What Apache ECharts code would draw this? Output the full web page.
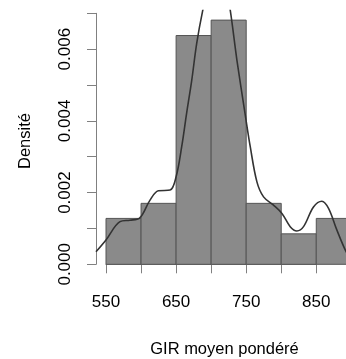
<!DOCTYPE html>
<html>
<head>
<meta charset="utf-8">
<script src="https://cdn.jsdelivr.net/npm/echarts@6/dist/echarts.min.js"></script>
<style>html,body{margin:0;padding:0;background:#fff}#c{width:346px;height:359px}</style>
</head>
<body>
<div id="c"></div>
<script>
// Histogram bins (edges) and densities
var binStarts = [550, 600, 650, 700, 750, 800, 850];
var binWidth = 50;
var densities = [0.00128, 0.0017, 0.00638, 0.00681, 0.0017, 0.00085, 0.00128];
// Kernel density curve
var densX = [535.7, 550, 570, 584, 597.5, 612.8, 624.7, 641.4, 650, 658, 665, 672.3, 679.4, 688, 695, 702, 708, 715, 722, 727.3, 736.8, 748.7, 755.8, 765.3, 774.8, 789, 801, 812.8, 822.3, 831.8, 846, 858, 867.5, 879.3, 892.6, 900];
var densY = [0.00035, 0.00068, 0.00119, 0.00123, 0.00128, 0.00179, 0.00205, 0.00207, 0.00244, 0.00328, 0.00421, 0.00513, 0.00616, 0.00708, 0.00765, 0.00795, 0.00802, 0.00795, 0.00760, 0.00708, 0.00569, 0.00416, 0.00328, 0.0023, 0.00188, 0.00165, 0.00142, 0.00105, 0.00093, 0.00105, 0.0016, 0.00176, 0.00156, 0.00096, 0.00035, 0.00015];
// Tick labels
var xTicks = [550, 650, 750, 850];
var yTicks = ['0.000', '0.002', '0.004', '0.006'];
var xTitle = 'GIR moyen pondéré';
var yTitle = 'Densité';

var bars = binStarts.map(function (s, i) { return [s, s + binWidth, densities[i]]; });
var curve = densX.map(function (x, i) { return [x, densY[i]]; });

var chart = echarts.init(document.getElementById('c'), null, {renderer: 'canvas'});
var font = 'Liberation Sans, Arial, sans-serif';
var axisCol = '#808080';
chart.setOption({
  animation: false,
  backgroundColor: '#fff',
  grid: [
    {left: 96, right: 0, top: 10.5, bottom: 84.5},
    {left: 106, right: 29.7, top: 13.3, bottom: 94.7}
  ],
  xAxis: [
    {gridIndex: 0, type: 'value', min: 535.73, max: 892.4, show: false},
    {gridIndex: 1, type: 'value', min: 550, max: 850, interval: 50, position: 'bottom', offset: 10,
     axisLine: {show: true, lineStyle: {color: axisCol, width: 1}},
     axisTick: {show: true, length: 9, lineStyle: {color: axisCol}},
     splitLine: {show: false},
     axisLabel: {margin: 20, color: '#000', fontSize: 17, fontFamily: font,
       formatter: function (v) { return xTicks.indexOf(Math.round(v)) >= 0 ? String(Math.round(v)) : ''; }}}
  ],
  yAxis: [
    {gridIndex: 0, type: 'value', min: -0.000284, max: 0.007078, show: false},
    {gridIndex: 1, type: 'value', min: 0, max: 0.007, interval: 0.001, position: 'left', offset: 10,
     axisLine: {show: true, lineStyle: {color: axisCol, width: 1}},
     axisTick: {show: true, length: 9, lineStyle: {color: axisCol}},
     splitLine: {show: false},
     axisLabel: {margin: 22, rotate: 90, color: '#000', fontSize: 17, fontFamily: font,
       formatter: function (v) { var s = v.toFixed(3); return yTicks.indexOf(s) >= 0 ? s : ''; }}}
  ],
  graphic: [
    {type: 'text', x: 224.5, y: 349, style: {text: xTitle, fill: '#000', font: '16.5px ' + font, textAlign: 'center', textVerticalAlign: 'middle'}},
    {type: 'text', x: 25, y: 141, rotation: Math.PI / 2, style: {text: yTitle, fill: '#000', font: '16.5px ' + font, textAlign: 'center', textVerticalAlign: 'middle'}}
  ],
  series: [
    {type: 'custom', xAxisIndex: 0, yAxisIndex: 0, clip: true, data: bars,
     renderItem: function (params, api) {
       var p0 = api.coord([api.value(0), 0]);
       var p1 = api.coord([api.value(1), api.value(2)]);
       return {type: 'rect', shape: {x: p0[0], y: p1[1], width: p1[0] - p0[0], height: p0[1] - p1[1]},
               style: {fill: '#8a8a8a', stroke: '#555555', lineWidth: 1}};
     }},
    {type: 'line', xAxisIndex: 0, yAxisIndex: 0, data: curve, smooth: 0.35, showSymbol: false, clip: true,
     lineStyle: {color: '#333333', width: 1.6}}
  ]
});
</script>
</body>
</html>
